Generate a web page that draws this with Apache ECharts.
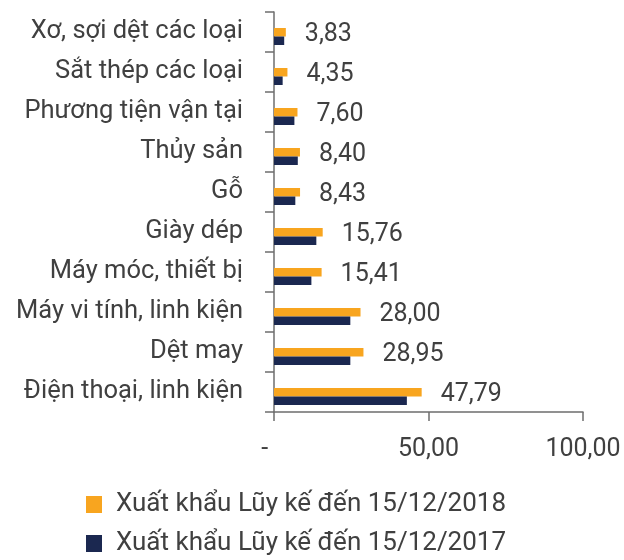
<!DOCTYPE html>
<html>
<head>
<meta charset="utf-8">
<script src="https://cdn.jsdelivr.net/npm/echarts@6/dist/echarts.min.js"></script>
<style>
  html, body { margin: 0; padding: 0; background: #fff; }
  #chart { width: 624px; height: 560px; }
</style>
</head>
<body>
<div id="chart"></div>
<script>
// categories listed bottom to top (category axis starts at the bottom)
const categories = [
  'Điện thoại, linh kiện',
  'Dệt may',
  'Máy vi tính, linh kiện',
  'Máy móc, thiết bị',
  'Giày dép',
  'Gỗ',
  'Thủy sản',
  'Phương tiện vận tại',
  'Sắt thép các loại',
  'Xơ, sợi dệt các loại'
];
const export2018 = [47.79, 28.95, 28.00, 15.41, 15.76, 8.43, 8.40, 7.60, 4.35, 3.83];
const export2017 = [43.0, 24.7, 24.7, 12.1, 13.7, 6.9, 7.7, 6.6, 2.8, 3.3];
const xTicks = [0, 50, 100];
const name2018 = 'Xuất khẩu Lũy kế đến 15/12/2018';
const name2017 = 'Xuất khẩu Lũy kế đến 15/12/2017';

const textColor = '#404040';
const axisColor = '#6e6e6e';
const font = 'Roboto';
const fs = 25;

const fmt = v => v === 0 ? '-   ' : v.toFixed(2).replace('.', ',');

const chart = echarts.init(document.getElementById('chart'));

// one legend per series so they stack without wrapping
const legendItem = (name, top) => ({
  left: 86,
  top: top,
  padding: 0,
  itemWidth: 16,
  itemHeight: 17,
  icon: 'rect',
  data: [name],
  textStyle: { fontSize: 26, color: textColor, fontFamily: font, padding: [0, 0, 0, 9] }
});

chart.setOption({
  animation: false,
  textStyle: { fontFamily: font },
  legend: [legendItem(name2018, 491.5), legendItem(name2017, 530.5)],
  grid: [
    // visible axes
    { left: 274, right: 41, top: 12, bottom: 148 },
    // bars, pushed a bit lower inside each band
    { left: 274, right: 41, top: 16.5, bottom: 143.5 }
  ],
  xAxis: [
    {
      gridIndex: 0,
      type: 'value',
      min: xTicks[0],
      max: xTicks[xTicks.length - 1],
      interval: xTicks[1] - xTicks[0],
      splitLine: { show: false },
      axisLine: { show: true, lineStyle: { color: axisColor, width: 1.5 } },
      axisTick: { show: true, length: 9, lineStyle: { color: axisColor, width: 1.5 } },
      axisLabel: { fontSize: fs, color: textColor, margin: 25, formatter: fmt }
    },
    { gridIndex: 1, type: 'value', min: 0, max: 100, show: false }
  ],
  yAxis: [
    {
      gridIndex: 0,
      type: 'category',
      data: categories,
      axisLine: { show: true, lineStyle: { color: axisColor, width: 1.5 } },
      axisTick: { show: true, length: 9, lineStyle: { color: axisColor, width: 1.5 } },
      axisLabel: { fontSize: 25.5, color: textColor, margin: 31 }
    },
    { gridIndex: 1, type: 'category', data: categories, show: false }
  ],
  series: [
    {
      name: name2018,
      type: 'bar',
      xAxisIndex: 1,
      yAxisIndex: 1,
      data: export2018,
      barWidth: 8.5,
      barGap: '0%',
      itemStyle: { color: '#F8A51F' },
      label: {
        show: true,
        position: 'right',
        distance: 19,
        offset: [0, 2],
        fontSize: fs,
        color: textColor,
        formatter: p => fmt(p.value)
      }
    },
    {
      name: name2017,
      type: 'bar',
      xAxisIndex: 1,
      yAxisIndex: 1,
      data: export2017,
      barWidth: 8.5,
      barGap: '0%',
      itemStyle: { color: '#1B2850' }
    }
  ]
});
</script>
</body>
</html>
